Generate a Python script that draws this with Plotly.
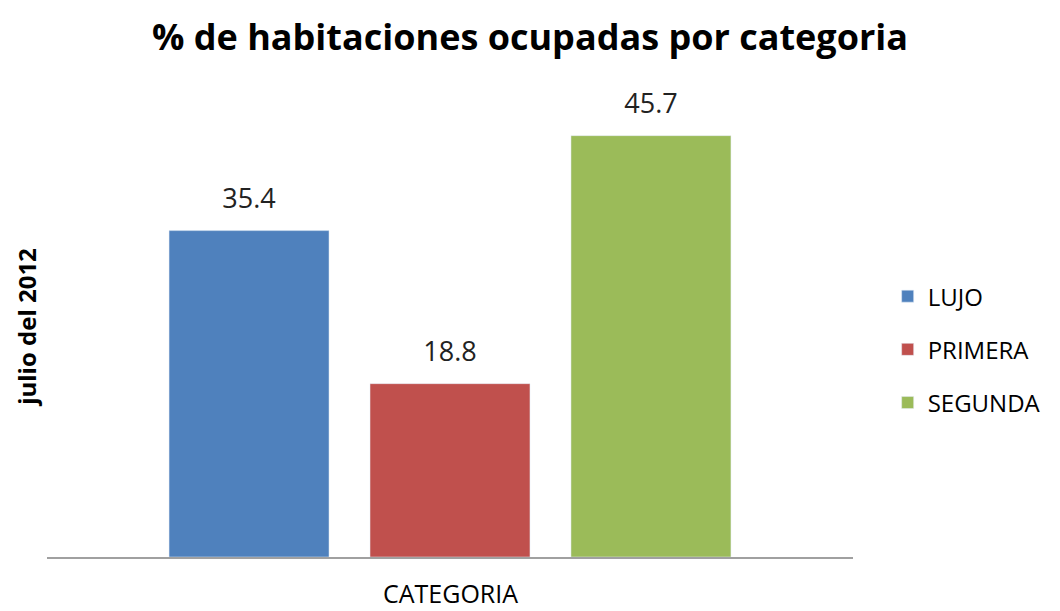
import plotly.graph_objects as go

categories = ["CATEGORIA"]
series_names = ["LUJO", "PRIMERA", "SEGUNDA"]
series_values = [35.4, 18.8, 45.7]
colors = ["#4F81BD", "#C0504D", "#9BBB59"]

fig = go.Figure()
for name, val, col in zip(series_names, series_values, colors):
    fig.add_trace(go.Bar(
        x=categories, y=[val], name=name, marker_color=col,
        legendgroup=name,
        text=[f"<span style='font-size:27px'>{val:.1f}</span><br> "],
        textposition="outside",
        textfont=dict(size=12, color="#222222", family="Open Sans"),
        cliponaxis=False,
    ))

fig.update_layout(
    width=1060, height=611,
    margin=dict(l=47, r=207, t=96, b=54, autoexpand=False),
    paper_bgcolor="white", plot_bgcolor="white",
    barmode="group", bargap=0.252, bargroupgap=0.204,
    title=dict(text="<b>% de habitaciones ocupadas por categoria</b>",
               x=0.5, xanchor="center", y=0.938, yanchor="middle",
               font=dict(size=36, family="Open Sans", color="black")),
    font=dict(family="Open Sans", color="black"),
    legend=dict(x=1.043, xanchor="left", y=0.45, yanchor="middle",
                font=dict(size=24, family="Open Sans", color="black"),
                tracegroupgap=19, itemwidth=30),
    showlegend=True,
    annotations=[dict(text=categories[0], xref="paper", yref="paper",
                      x=0.5, y=0, yshift=-36, xanchor="center", yanchor="middle",
                      showarrow=False,
                      font=dict(size=25, family="Open Sans", color="black"))],
)
fig.update_xaxes(showline=True, linecolor="#A0A0A0", linewidth=1.5,
                 showticklabels=False, ticks="", automargin=False)
fig.update_yaxes(range=[0, 50], showgrid=False, zeroline=False,
                 showticklabels=False, ticks="", automargin=False,
                 title=dict(text="<b>julio del 2012</b>", standoff=2,
                            font=dict(size=24, family="Open Sans", color="black")))

fig.write_html("out.html", config={"displayModeBar": False},
               post_script="document.body.style.margin='0';")
